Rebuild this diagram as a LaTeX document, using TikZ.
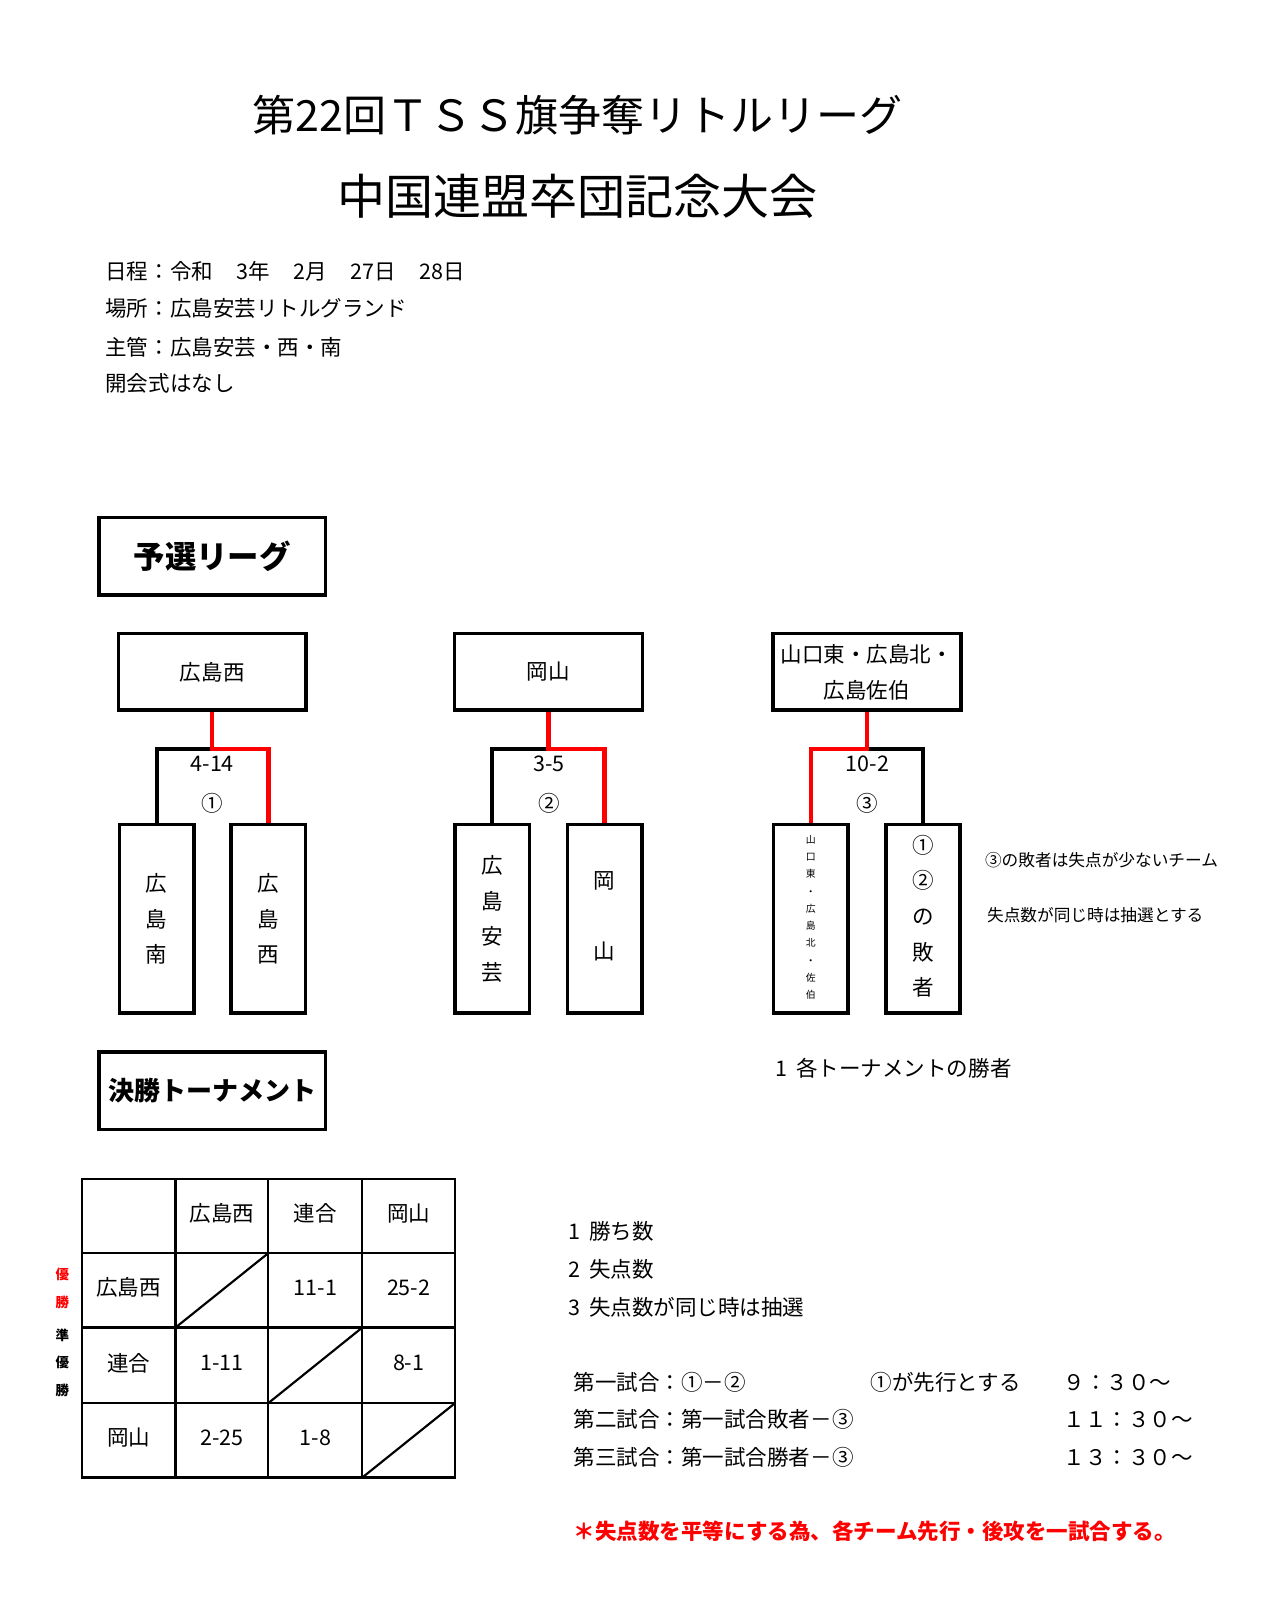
\documentclass[tikz,border=0pt]{standalone}
\usepackage{fontspec}
\setmainfont{Noto Sans CJK JP}
\usetikzlibrary{positioning}
\tikzset{
  boxst/.style={draw, line width=2pt, inner sep=0pt, align=center},
  blkline/.style={line width=2.2pt, line join=miter},
  redline/.style={draw=red, line width=2.4pt, line join=miter},
  tline/.style={line width=1.2pt},
  txt/.style={inner sep=0pt, font=\fontsize{12pt}{14pt}\selectfont},
  vtxt/.style={inner sep=0pt, align=center, font=\fontsize{12pt}{19.9pt}\selectfont},
  info/.style={inner sep=0pt, anchor=west, font=\fontsize{12pt}{14pt}\selectfont},
}
\begin{document}
\begin{tikzpicture}[x=0.02cm,y=-0.02cm]
\useasboundingbox[fill=white] (0,0) rectangle (1254,1568);
% title
\node[inner sep=0pt, font=\fontsize{24pt}{28pt}\selectfont] (title1) at (566,113) {第22回ＴＳＳ旗争奪リトルリーグ};
\node[inner sep=0pt, font=\fontsize{26.8pt}{30pt}\selectfont] (title2) at (566,192) {中国連盟卒団記念大会};
% info
\node[info] (i1) at (103,266) {日程：令和\hspace{1.1em}3年\hspace{1.1em}2月\hspace{1.1em}27日\hspace{1.1em}28日};
\node[info] (i2) at (103,302) {場所：広島安芸リトルグランド};
\node[info] (i3) at (103,340) {主管：広島安芸・西・南};
\node[info] (i4) at (103,376) {開会式はなし};
% section headers
\node[boxst, minimum width=4.44cm, minimum height=1.52cm, font=\fontsize{17.5pt}{20pt}\selectfont\bfseries] (sec1) at (208,545) {予選リーグ};
\node[boxst, minimum width=4.44cm, minimum height=1.52cm, font=\fontsize{14.5pt}{17pt}\selectfont\bfseries] (sec2) at (208,1069) {決勝トーナメント};
% top boxes
\node[boxst, minimum width=3.68cm, minimum height=1.5cm, font=\fontsize{12pt}{14pt}\selectfont] (t1) at (208,658.5) {広島西};
\node[boxst, minimum width=3.68cm, minimum height=1.5cm, font=\fontsize{12pt}{14pt}\selectfont] (t2) at (537.5,658.5) {岡山};
\node[boxst, minimum width=3.68cm, minimum height=1.5cm, font=\fontsize{12pt}{20pt}\selectfont] (t3) at (849.5,658.5) {山口東・広島北・\\広島佐伯};
% child boxes
\node[boxst, minimum width=1.46cm, minimum height=3.7cm] (c1) at (153.5,900.5) {};
\node[boxst, minimum width=1.46cm, minimum height=3.7cm] (c2) at (263,900.5) {};
\node[boxst, minimum width=1.46cm, minimum height=3.7cm] (c3) at (482.5,900.5) {};
\node[boxst, minimum width=1.46cm, minimum height=3.7cm] (c4) at (592.5,900.5) {};
\node[boxst, minimum width=1.46cm, minimum height=3.7cm] (c5) at (794.5,900.5) {};
\node[boxst, minimum width=1.46cm, minimum height=3.7cm] (c6) at (904.5,900.5) {};
\node[vtxt] (c1t) at (c1) {広\\島\\南};
\node[vtxt] (c2t) at (c2) {広\\島\\西};
\node[vtxt] (c3t) at (c3) {広\\島\\安\\芸};
\node[vtxt, font=\fontsize{12pt}{39.8pt}\selectfont] (c4t) at (592.5,898) {岡\\山};
\node[vtxt, font=\fontsize{5.5pt}{9.6pt}\selectfont] (c5t) at (794.5,899) {山\\口\\東\\・\\広\\島\\北\\・\\佐\\伯};
\node[vtxt] (c6t) at (904.5,898) {①\\②\\の\\敗\\者};
% junctions
\coordinate (j1) at (208,734);
\coordinate (j2) at (537.5,734);
\coordinate (j3) at (849.5,734);
% brackets
\draw[blkline] (c1.north) |- (j1);
\draw[redline] (t1.south) -- (j1) -| (c2.north);
\draw[blkline] (c3.north) |- (j2);
\draw[redline] (t2.south) -- (j2) -| (c4.north);
\draw[blkline] (c6.north) |- (j3);
\draw[redline] (t3.south) -- (j3) -| (c5.north);
% scores
\node[txt] (s1) at (208,749) {4-14};
\node[txt] (n1) at (208,787) {①};
\node[txt] (s2) at (538,749) {3-5};
\node[txt] (n2) at (538,787) {②};
\node[txt] (s3) at (850,749) {10-2};
\node[txt] (n3) at (850,787) {③};
% notes
\node[inner sep=0pt, anchor=west, font=\fontsize{9.3pt}{11pt}\selectfont] (note1) at (965,843) {③の敗者は失点が少ないチーム};
\node[inner sep=0pt, anchor=west, font=\fontsize{9.3pt}{11pt}\selectfont] (note2) at (967,897) {失点数が同じ時は抽選とする};
\node[txt, anchor=west] (win) at (760,1047) {1\hspace{0.4em}各トーナメントの勝者};
% table
\draw[tline] (80,1155) rectangle (446,1448);
\foreach \xx in {172,263,355} \draw[tline] (\xx,1155) -- (\xx,1448);
\foreach \yy in {1228,1301,1375} \draw[tline] (80,\yy) -- (446,\yy);
\draw[tline] (172,1301) -- (263,1228);
\draw[tline] (263,1375) -- (355,1301);
\draw[tline] (355,1448) -- (446,1375);
\node[txt] (h1) at (217.5,1189) {広島西};
\node[txt] (h2) at (309,1189) {連合};
\node[txt] (h3) at (400.5,1189) {岡山};
\node[txt] (r1) at (126,1262) {広島西};
\node[txt] (r2) at (126,1336) {連合};
\node[txt] (r3) at (126,1409) {岡山};
\node[txt] (v12) at (309,1262) {11-1};
\node[txt] (v13) at (400.5,1262) {25-2};
\node[txt] (v21) at (217.5,1336) {1-11};
\node[txt] (v23) at (400.5,1336) {8-1};
\node[txt] (v31) at (217.5,1409) {2-25};
\node[txt] (v32) at (309,1409) {1-8};
% rank labels
\node[inner sep=0pt, align=center, text=red, font=\fontsize{7.5pt}{15.4pt}\selectfont\bfseries] (rk1) at (61,1262.5) {優\\勝};
\node[inner sep=0pt, align=center, font=\fontsize{7.5pt}{15.2pt}\selectfont\bfseries] (rk2) at (61,1335.5) {準\\優\\勝};
% criteria
\node[txt, anchor=west] (k1) at (557,1207) {1\hspace{0.4em}勝ち数};
\node[txt, anchor=west] (k2) at (557,1244) {2\hspace{0.4em}失点数};
\node[txt, anchor=west] (k3) at (557,1281) {3\hspace{0.4em}失点数が同じ時は抽選};
% schedule
\node[txt, anchor=west] (g1) at (562,1355) {第一試合：①－②};
\node[txt, anchor=west] (g1b) at (853,1355) {①が先行とする};
\node[txt, anchor=west] (g1c) at (1042,1355) {９：３０～};
\node[txt, anchor=west] (g2) at (562,1391) {第二試合：第一試合敗者－③};
\node[txt, anchor=west] (g2c) at (1042,1391) {１１：３０～};
\node[txt, anchor=west] (g3) at (562,1428) {第三試合：第一試合勝者－③};
\node[txt, anchor=west] (g3c) at (1042,1428) {１３：３０～};
\node[txt, anchor=west, text=red, font=\fontsize{12pt}{14pt}\selectfont\bfseries] (red1) at (562,1501) {＊失点数を平等にする為、各チーム先行・後攻を一試合する。};
\end{tikzpicture}
\end{document}
